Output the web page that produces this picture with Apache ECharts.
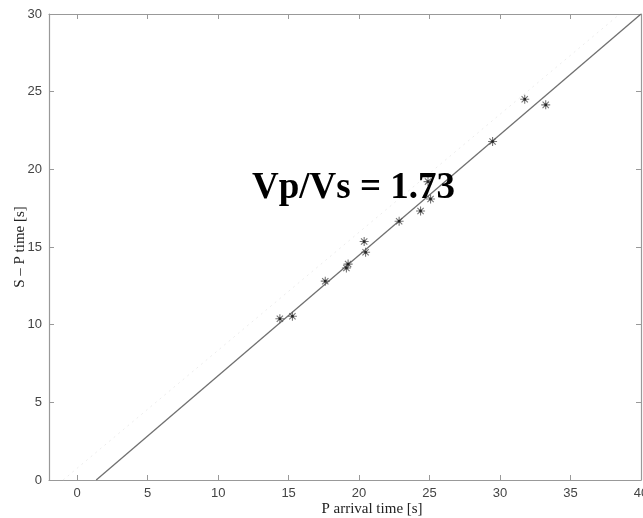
<!DOCTYPE html>
<html>
<head>
<meta charset="utf-8">
<title>Vp/Vs</title>
<script src="https://cdn.jsdelivr.net/npm/echarts@6/dist/echarts.min.js"></script>
<style>
  html, body { margin: 0; padding: 0; background: #fff; }
  #chart { width: 643px; height: 518px; }
</style>
</head>
<body>
<div id="chart"></div>
<script>
// Wadati diagram: S-P time against P arrival time
const pArrival = [14.38, 15.27, 17.6, 19.1, 19.22, 20.36, 20.46, 22.84, 24.36, 24.89, 25.07, 29.47, 31.75, 33.24];
const spTime   = [10.38, 10.54, 12.8, 13.65, 13.9, 15.35, 14.66, 16.66, 17.32, 19.21, 18.09, 21.79, 24.51, 24.15];

// fitted line endpoints (x, y)
const fitX = [1.35, 40];
const fitY = [0, 30];
// faint dotted reference line endpoints
const refX = [-1.0, 38.5];
const refY = [0, 30];

const xTicks = [0, 5, 10, 15, 20, 25, 30, 35, 40];
const yTicks = [0, 5, 10, 15, 20, 25, 30];

const ratioText = 'Vp/Vs = 1.73';
const xTitle = 'P arrival time [s]';
const yTitle = 'S \u2013 P time [s]';

const axisGray = '#999999';
const asterisk = 'path://M0,-10L0,10M-10,0L10,0M-7,-7L7,7M-7,7L7,-7';

const chart = echarts.init(document.getElementById('chart'), null, { renderer: 'canvas' });

const frameAxis = (pos, showLabels, ticks, extra) => Object.assign({
  type: 'value',
  position: pos,
  axisLine: { show: true, onZero: false, lineStyle: { color: axisGray, width: 1.2 } },
  axisTick: { show: true, inside: true, length: 5, customValues: ticks, lineStyle: { color: axisGray, width: 1 } },
  axisLabel: {
    show: showLabels, customValues: ticks,
    fontFamily: 'Liberation Sans', fontSize: 13, color: '#444', margin: 7
  },
  splitLine: { show: false }
}, extra);

chart.setOption({
  animation: false,
  backgroundColor: '#ffffff',
  grid: { left: 49, right: 2, top: 14, bottom: 38, containLabel: false, outerBoundsMode: 'none' },
  xAxis: [
    frameAxis('bottom', true, xTicks, { min: -2, max: 40 }),
    frameAxis('top', false, xTicks, { min: -2, max: 40 })
  ],
  yAxis: [
    frameAxis('left', true, yTicks, { min: 0, max: 30, interval: 5 }),
    frameAxis('right', false, yTicks, { min: 0, max: 30, interval: 5 })
  ],
  series: [
    {
      type: 'line',
      data: refX.map((x, i) => [x, refY[i]]),
      symbol: 'none',
      lineStyle: { color: '#ececec', width: 1, type: [2, 4] },
      z: 1
    },
    {
      type: 'line',
      data: fitX.map((x, i) => [x, fitY[i]]),
      symbol: 'none',
      lineStyle: { color: '#707070', width: 1.3 },
      z: 2
    },
    {
      type: 'scatter',
      data: pArrival.map((x, i) => [x, spTime[i]]),
      symbol: asterisk,
      symbolSize: 9,
      itemStyle: { color: 'rgba(0,0,0,0)', borderColor: '#555', borderWidth: 1.1 },
      z: 3
    },
    {
      type: 'scatter',
      data: pArrival.map((x, i) => [x, spTime[i]]),
      symbol: 'rect',
      symbolSize: 2.5,
      itemStyle: { color: '#111' },
      z: 4
    }
  ],
  graphic: [
    {
      type: 'text',
      left: 252, top: 170,
      style: {
        text: ratioText,
        font: 'bold 37px "Liberation Serif", "Times New Roman", serif',
        fill: '#000',
        verticalAlign: 'top'
      },
      z: 10
    },
    {
      type: 'text',
      x: 372, y: 509,
      style: {
        text: xTitle,
        font: '15px "Liberation Serif", "Times New Roman", serif',
        fill: '#222',
        align: 'center',
        verticalAlign: 'middle'
      }
    },
    {
      type: 'text',
      x: 20, y: 247,
      rotation: Math.PI / 2,
      style: {
        text: yTitle,
        font: '15px "Liberation Serif", "Times New Roman", serif',
        fill: '#222',
        align: 'center',
        verticalAlign: 'middle'
      }
    }
  ]
});
</script>
</body>
</html>
